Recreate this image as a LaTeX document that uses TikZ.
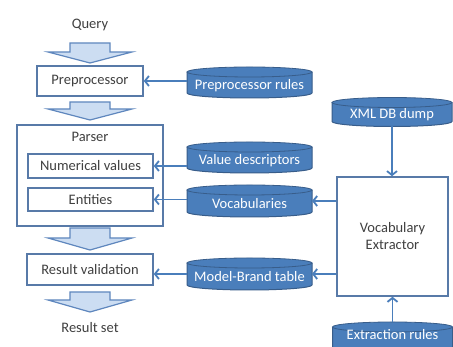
\documentclass[tikz,border=0pt]{standalone}
\usepackage{fontspec}
\setmainfont{Carlito}
\usetikzlibrary{arrows.meta}
\definecolor{cylf}{RGB}{74,126,187}
\definecolor{cyld}{RGB}{56,93,138}
\definecolor{boxd}{RGB}{88,122,168}
\definecolor{barf}{RGB}{204,221,242}
\definecolor{bard}{RGB}{95,135,190}
\definecolor{conc}{RGB}{74,126,187}
\definecolor{txt}{RGB}{64,64,64}
\newcommand\dbcyl[7]{%
  \fill[cylf] (#2-#4,#3+#5-5) -- (#2-#4,#3-#5+5) arc[start angle=180,end angle=360,x radius=#4,y radius=5] -- (#2+#4,#3+#5-5) -- cycle;
  \draw[cyld,line width=1pt] (#2-#4,#3+#5-5) -- (#2-#4,#3-#5+5) arc[start angle=180,end angle=360,x radius=#4,y radius=5] -- (#2+#4,#3+#5-5);
  \draw[cyld,fill=cylf,line width=0.8pt] (#2,#3+#5-5) ellipse[x radius=#4,y radius=5];
  \node[cylnode,minimum width={2*#4pt},minimum height={2*#5pt}] (#1) at (#2,#3) {};
  \node[cyltxt] at (#2,#3+#7) {#6};
}
\newcommand\blockarrow[4]{%
  \draw[bard,fill=barf,line width=1.2pt,line join=miter]
    (#1-20,#2) -- (#1+20,#2) -- (#1+20,#3) -- (#1+42,#3) -- (#1,#4) -- (#1-42,#3) -- (#1-20,#3) -- cycle;
}
\tikzset{
  basefont/.style={font=\fontsize{14.5}{18}\selectfont},
  box/.style={basefont,draw=boxd,line width=1.5pt,fill=white,text=txt,inner sep=0pt,align=center},
  plain/.style={basefont,text=txt,inner sep=1pt},
  cylnode/.style={inner sep=0pt,outer sep=0pt},
  cyltxt/.style={basefont,text=white,inner sep=0pt},
  conn/.style={draw=conc,line width=1.8pt,-{Straight Barb[length=4pt,width=10pt]}},
}
\begin{document}
\begin{tikzpicture}[x=1pt,y=1pt]
\useasboundingbox (0,0) rectangle (453,347);
\clip (0,0) rectangle (453,347);
\fill[white] (0,0) rectangle (453,347);

% left column
\node[plain] (q) at (90,322) {Query};
\blockarrow{90}{304}{295}{284}
\node[box,minimum width=106pt,minimum height=30pt] (pre) at (90,266) {Preprocessor};
\blockarrow{90}{245}{238}{227}
\node[box,minimum width=146pt,minimum height=101pt] (parser) at (90,171.5) {};
\node[plain] (parserlbl) at (90,210) {Parser};
\node[box,minimum width=125pt,minimum height=24pt] (nv) at (90.5,181) {Numerical values};
\node[box,minimum width=125pt,minimum height=23pt] (ent) at (90.5,147.5) {Entities};
\blockarrow{90}{119}{109}{97}
\node[box,minimum width=126pt,minimum height=31pt] (rv) at (90,77.5) {Result validation};
\blockarrow{90}{55}{47}{35}
\node[plain] (rs) at (90,19) {Result set};

% right column
\node[box,minimum width=111pt,minimum height=119pt] (ve) at (392.5,110.5) {Vocabulary\\[-1pt]Extractor};

% cylinders
\dbcyl{prr}{249.5}{264.5}{62.5}{15.5}{Preprocessor rules}{-3}
\dbcyl{xml}{392}{235}{60}{14.5}{XML DB dump}{-3}
\dbcyl{vd}{249.5}{189.5}{62.5}{15.5}{Value descriptors}{-3}
\dbcyl{voc}{249.5}{146}{62.5}{16}{Vocabularies}{-3}
\dbcyl{mb}{249.5}{73}{62.5}{16}{Model-Brand table}{-3}
\dbcyl{er}{392.5}{10}{60}{15}{Extraction rules}{2}

% connectors
\draw[conn] (prr.west |- pre.east) -- (pre.east);
\draw[conn] (vd.west |- nv.east) -- (nv.east);
\draw[conn] (voc.west |- ent.east) -- (ent.east);
\draw[conn] (mb.west) -- (rv.east |- mb.west);
\draw[conn] (xml.south) -- (xml.south |- ve.north);
\draw[conn] (er.north) -- (er.north |- ve.south);
\draw[conn] (ve.west |- voc.east) -- (voc.east);
\draw[conn] (ve.west |- mb.east) -- (mb.east);
\end{tikzpicture}
\end{document}
